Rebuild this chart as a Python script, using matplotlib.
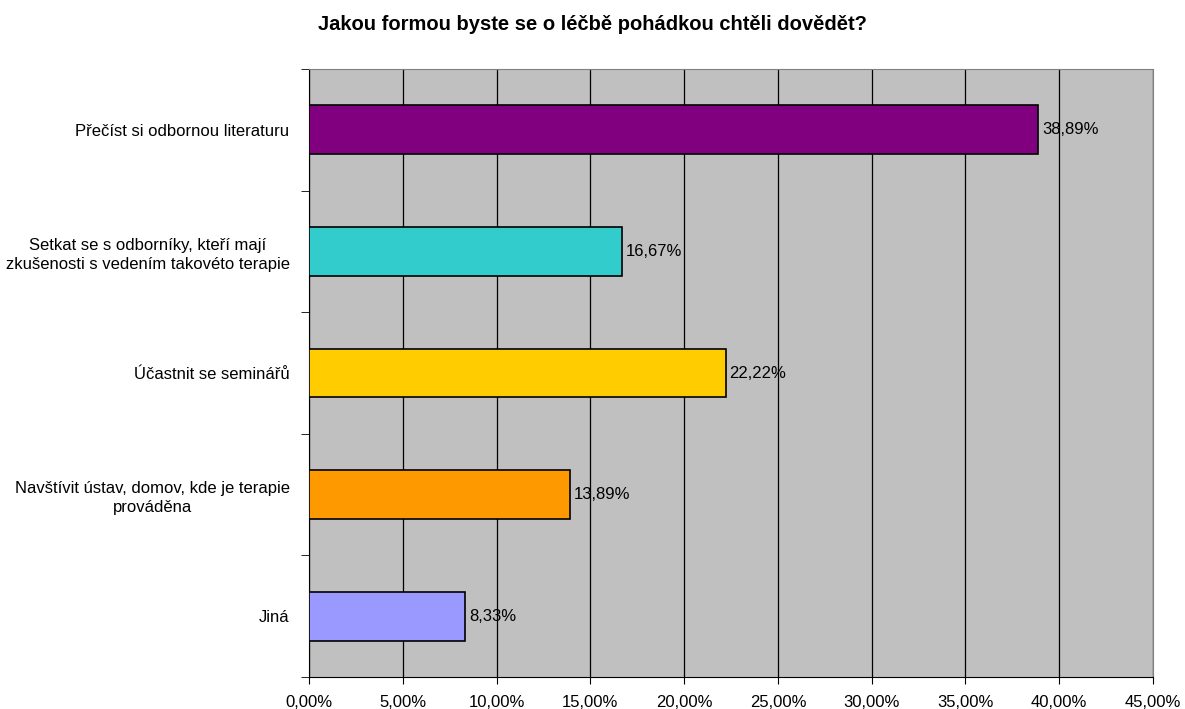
import matplotlib.pyplot as plt
from matplotlib.ticker import FuncFormatter, MultipleLocator

plt.rcParams['font.family'] = ['Liberation Sans', 'DejaVu Sans']

# data
categories = [
    "Přečíst si odbornou literaturu",
    "Setkat se s odborníky, kteří mají\nzkušenosti s vedením takovéto terapie",
    "Účastnit se seminářů",
    "Navštívit ústav, domov, kde je terapie\nprováděna",
    "Jiná",
]
values = [38.89, 16.67, 22.22, 13.89, 8.33]
colors = ["#800080", "#33CCCC", "#FFCC00", "#FF9900", "#9999FF"]

fig = plt.figure(figsize=(11.85, 7.09), dpi=100)
ax = fig.add_axes([309 / 1185, 1 - 677 / 709, (1153 - 309) / 1185, (677 - 69) / 709])
ax.set_facecolor("#C0C0C0")

pos = list(range(len(categories)))
ax.barh(pos, values, height=0.4, color=colors, edgecolor="black", linewidth=1.2, zorder=3)
for p, v in zip(pos, values):
    ax.text(v + 0.2, p, f"{v:.2f}%".replace(".", ","), va="center", ha="left",
            fontsize=12, zorder=4)

ax.set_xlim(0, 45)
ax.set_ylim(len(categories) - 0.5, -0.5)
ax.xaxis.set_major_locator(MultipleLocator(5))
ax.xaxis.set_major_formatter(FuncFormatter(lambda x, _: f"{x:.2f}%".replace(".", ",")))
ax.grid(axis="x", color="black", linewidth=0.9, zorder=1)

ax.set_yticks(pos)
ax.set_yticklabels(categories, fontsize=12, ha="right", multialignment="center",
                   linespacing=1.3)
ax.tick_params(axis="y", length=0, pad=14)
ax.set_yticks([i - 0.5 for i in range(len(categories) + 1)], minor=True)
ax.tick_params(axis="y", which="minor", length=6, color="black")
ax.tick_params(axis="x", length=5, labelsize=12, pad=8)

for s in ["top", "right"]:
    ax.spines[s].set_color("#808080")
for s in ["left", "bottom"]:
    ax.spines[s].set_color("black")

fig.text(0.5, 1 - 25 / 709, "Jakou formou byste se o léčbě pohádkou chtěli dovědět?",
         ha="center", va="center", fontsize=14.5, fontweight="bold")

plt.savefig("out.png")
